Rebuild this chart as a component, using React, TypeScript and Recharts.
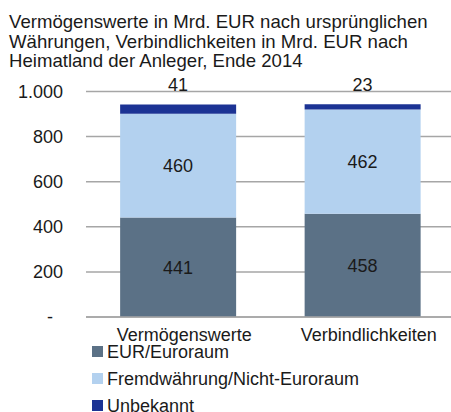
import { Bar, BarChart, CartesianGrid, LabelList, XAxis, YAxis } from "recharts";

const categories = ["Vermögenswerte", "Verbindlichkeiten"];
const euroValues = [441, 458];
const foreignValues = [460, 462];
const unknownValues = [41, 23];
const yTicks = [0, 200, 400, 600, 800, 1000];

const seriesNames = ["EUR/Euroraum", "Fremdwährung/Nicht-Euroraum", "Unbekannt"];
const colors = ["#5b7186", "#b3d1ef", "#1c3394"];

const font = '"Liberation Sans", Arial, sans-serif';
const textColor = "#1a1a1a";

const data = categories.map((name, i) => ({
  name,
  euro: euroValues[i],
  foreign: foreignValues[i],
  unknown: unknownValues[i],
}));

function formatTick(v: number) {
  if (v === 0) return "-";
  return v.toLocaleString("de-DE");
}

function YTick(props: any) {
  const { x, y, payload } = props;
  const zero = payload.value === 0;
  return (
    <text
      x={zero ? x - 25 : x - 15}
      y={y}
      dy="0.35em"
      textAnchor="end"
      fill={textColor}
      fontSize={18}
      fontFamily={font}
    >
      {formatTick(payload.value)}
    </text>
  );
}

function XTick(props: any) {
  const { x, y, payload } = props;
  return (
    <text x={x + 6} y={y + 10} dy="0.35em" textAnchor="middle" fill={textColor} fontSize={18} fontFamily={font}>
      {payload.value}
    </text>
  );
}

// the small "Unbekannt" values sit above the plot, not on the thin segment
function TopLabel(props: any) {
  const { x, width, value } = props;
  return (
    <text x={x + width / 2} y={85} dy="0.35em" textAnchor="middle" fill={textColor} fontSize={18} fontFamily={font}>
      {value}
    </text>
  );
}

export default function App() {
  return (
    <div style={{ position: "absolute", left: 0, top: 0, width: 451, height: 412, overflow: "hidden", background: "#fff" }}>
      <div
        style={{
          position: "absolute",
          left: 9,
          top: 12,
          fontFamily: font,
          fontSize: 18.6,
          lineHeight: "19.6px",
          color: textColor,
          whiteSpace: "nowrap",
        }}
      >
        Vermögenswerte in Mrd. EUR nach ursprünglichen
        <br />
        Währungen, Verbindlichkeiten in Mrd. EUR nach
        <br />
        Heimatland der Anleger, Ende 2014
      </div>
      <div style={{ position: "absolute", left: 0, top: 0 }}>
        <BarChart
          width={455}
          height={412}
          data={data}
          margin={{ top: 91.5, right: 0, bottom: 65, left: 0 }}
          barCategoryGap="18.5%"
        >
          <CartesianGrid vertical={false} stroke="#a6a6a6" strokeWidth={1.5} />
          <XAxis
            dataKey="name"
            height={30}
            tickLine={false}
            axisLine={{ stroke: "#a6a6a6", strokeWidth: 1.5 }}
            tick={<XTick />}
            interval={0}
          />
          <YAxis
            width={86}
            domain={[0, 1000]}
            ticks={yTicks}
            axisLine={false}
            tickLine={false}
            tick={<YTick />}
            interval={0}
          />
          <Bar dataKey="euro" stackId="a" fill={colors[0]} isAnimationActive={false}>
            <LabelList dataKey="euro" position="center" fill={textColor} fontSize={18} fontFamily={font} />
          </Bar>
          <Bar dataKey="foreign" stackId="a" fill={colors[1]} isAnimationActive={false}>
            <LabelList dataKey="foreign" position="center" fill={textColor} fontSize={18} fontFamily={font} />
          </Bar>
          <Bar dataKey="unknown" stackId="a" fill={colors[2]} isAnimationActive={false}>
            <LabelList dataKey="unknown" content={<TopLabel />} />
          </Bar>
        </BarChart>
      </div>
      <div style={{ position: "absolute", left: 92, top: 338, fontFamily: font, fontSize: 18, lineHeight: "20px", color: textColor }}>
        {seriesNames.map((s, i) => (
          <div key={s} style={{ display: "flex", alignItems: "center", height: 27 }}>
            <span style={{ width: 11, height: 11, background: colors[i], marginRight: 4 }} />
            {s}
          </div>
        ))}
      </div>
    </div>
  );
}
